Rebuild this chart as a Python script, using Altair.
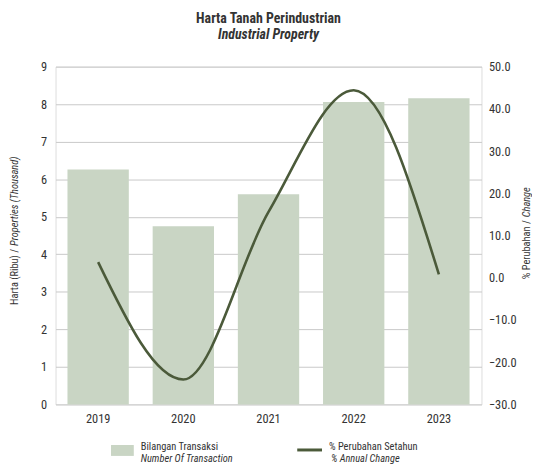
import altair as alt
import pandas as pd

years = ["2019", "2020", "2021", "2022", "2023"]
transactions = [6.26, 4.75, 5.6, 8.06, 8.16]
annual_change = [3.7, -24.1, 15.6, 44.4, 0.8]

FONT = "Liberation Sans Narrow, Roboto Condensed, DejaVu Sans Condensed, Arial Narrow, sans-serif"
BAR = "#c9d5c4"
LINE = "#4b5a3a"
TXT = "#333333"

df = pd.DataFrame({"year": years, "trans": transactions, "chg": annual_change})

x = alt.X("year:N", sort=years, title=None,
          scale=alt.Scale(paddingInner=0.28, paddingOuter=0.14),
          axis=alt.Axis(labelAngle=0, domain=False, ticks=False, labelPadding=8,
                        labelFontSize=12.5, labelColor=TXT, labelFont=FONT))

bars = alt.Chart(df).mark_bar(color=BAR).encode(
    x=x,
    y=alt.Y("trans:Q", title=None,
            scale=alt.Scale(domain=[0, 9], nice=False),
            axis=alt.Axis(values=list(range(10)), grid=True, gridColor="#c8c8c8",
                          domain=False, ticks=False, labelPadding=9,
                          labelFontSize=12.5, labelColor=TXT, labelFont=FONT)),
)

line = alt.Chart(df).mark_line(color=LINE, strokeWidth=2.6, interpolate="monotone").encode(
    x=x,
    y=alt.Y("chg:Q", title=None,
            scale=alt.Scale(domain=[-30, 50], nice=False),
            axis=alt.Axis(orient="right", values=list(range(-30, 51, 10)), format=".1f",
                          grid=False, domain=False, ticks=False, labelPadding=7,
                          labelFontSize=12.5, labelColor=TXT, labelFont=FONT)),
)

def txt(s, xv, yv, italic=False, angle=0, align="left", size=10.5, baseline="middle", dx=0):
    return alt.Chart(pd.DataFrame({"t": [s]})).mark_text(
        font=FONT, fontSize=size, fontStyle="italic" if italic else "normal",
        color=TXT, align=align, baseline=baseline, angle=angle, dx=dx
    ).encode(x=alt.value(xv), y=alt.value(yv), text="t:N")

# axis titles (mixed upright / italic)
ytitle_l1 = txt("Harta (Ribu) /", -41, 184, angle=270, align="right")
ytitle_l2 = txt("Properties (Thousand)", -41, 184, italic=True, angle=270, align="left", dx=3)
ytitle_r1 = txt("% Perubahan /", 476, 155, angle=270, align="right")
ytitle_r2 = txt("Change", 476, 155, italic=True, angle=270, align="left", dx=3)

# custom legend
leg_rect = alt.Chart(pd.DataFrame({"a": [0]})).mark_rect(color=BAR).encode(
    x=alt.value(56), x2=alt.value(79), y=alt.value(382), y2=alt.value(393))
leg_line = alt.Chart(pd.DataFrame({"a": [0]})).mark_rule(color=LINE, strokeWidth=3).encode(
    x=alt.value(244), x2=alt.value(269), y=alt.value(387))
leg_t1 = txt("Bilangan Transaksi", 86, 384)
leg_t2 = txt("Number Of Transaction", 86, 396, italic=True)
leg_t3 = txt("% Perubahan Setahun", 276, 384)
leg_t4 = txt("% Annual Change", 278, 396, italic=True)

main = alt.layer(bars, line).resolve_scale(y="independent")

chart = alt.layer(
    main, ytitle_l1, ytitle_l2, ytitle_r1, ytitle_r2,
    leg_rect, leg_line, leg_t1, leg_t2, leg_t3, leg_t4
).properties(
    width=430, height=341,
    autosize=alt.AutoSizeParams(type="none"),
    padding={"left": 48, "top": 57, "right": 51, "bottom": 61},
    title=alt.Title("Harta Tanah Perindustrian", subtitle="Industrial Property",
                    font=FONT, fontSize=14, fontWeight="bold", color=TXT,
                    subtitleFont=FONT, subtitleFontSize=14, subtitleFontWeight="bold",
                    subtitleFontStyle="italic", subtitleColor=TXT, subtitlePadding=2,
                    anchor="middle", offset=19),
).configure_view(stroke=None).configure(background="white")

chart.save("out.html", embed_options={"renderer": "svg", "actions": False})
